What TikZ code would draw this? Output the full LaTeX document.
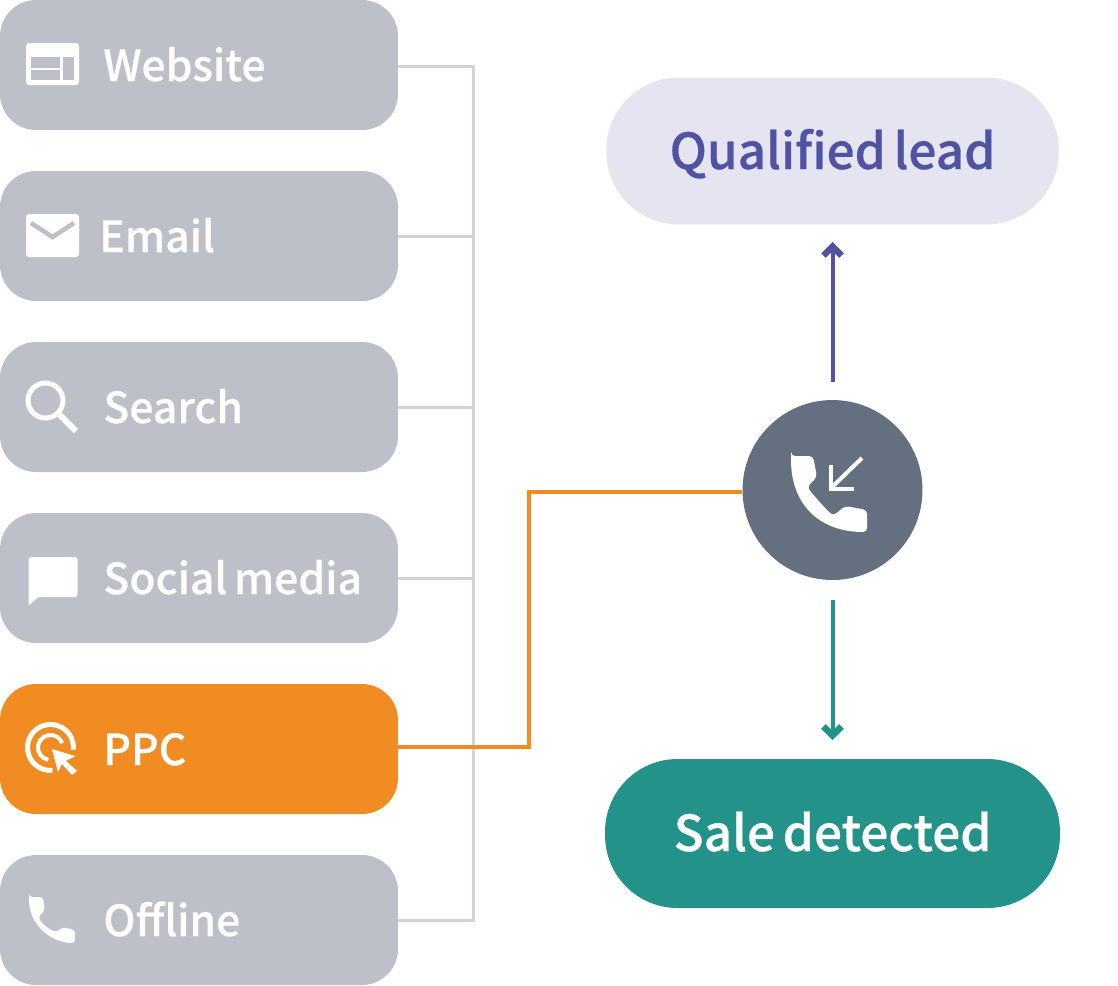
\documentclass[tikz,border=0pt]{standalone}
\usepackage{fontspec}
\setmainfont{Noto Sans CJK SC}[UprightFont=* Medium, WordSpace=0.7, FakeBold=0.5]
\usetikzlibrary{arrows, arrows.meta}
\usetikzlibrary{positioning}
\usepackage{xcolor}
\definecolor{boxgrey}{HTML}{BDBFC9}
\definecolor{linegrey}{HTML}{D2D3D9}
\definecolor{ppcorange}{HTML}{F08C22}
\definecolor{leadpurple}{HTML}{5053A3}
\definecolor{leadpale}{HTML}{E5E5F1}
\definecolor{saleteal}{HTML}{23938A}
\definecolor{callslate}{HTML}{64707F}
\tikzset{
  sourcebox/.style={fill=boxgrey, rounded corners=0.72cm, minimum width=7.96cm, minimum height=2.6cm, inner sep=0pt},
  sourcetext/.style={anchor=base west, text=white, font=\fontsize{24.3}{27}\selectfont, inner sep=0pt},
  resultpill/.style={rounded corners=1.45cm, minimum width=9.05cm, minimum height=2.94cm, inner sep=0pt},
  resulttext/.style={font=\fontsize{28.2}{32}\selectfont, inner sep=0pt, anchor=base},
  feedline/.style={linegrey, line width=0.06cm},
  resultarrow/.style={-{Straight Barb[length=0.18cm, width=0.36cm, line width=0.13cm]}, line width=0.08cm},
  icon/.style={fill=white, draw=none},
  iconline/.style={white, line width=0.1cm}
}
\begin{document}
\begin{tikzpicture}[x=0.02cm, y=-0.02cm]
\useasboundingbox (0,0) rectangle (1118,985);

%source boxes
\node[sourcebox] (website) at (199,65) {};
\node[sourcebox] (email) at (199,236) {};
\node[sourcebox] (search) at (199,407) {};
\node[sourcebox] (social) at (199,578) {};
\node[sourcebox, fill=ppcorange] (ppc) at (199,749) {};
\node[sourcebox] (offline) at (199,920) {};

%labels
\node[sourcetext] (websitetext) at (103,81) {Website};
\node[sourcetext] (emailtext) at (99,252) {Email};
\node[sourcetext] (searchtext) at (103,423) {Search};
\node[sourcetext] (socialtext) at (103,594) {Social media};
\node[sourcetext] (ppctext) at (103,765) {PPC};
\node[sourcetext] (offlinetext) at (103,936) {Offline};

%results and call
\node[resultpill, fill=leadpale] (lead) at (832.5,151) {};
\node[resultpill, fill=saleteal, minimum width=9.1cm, minimum height=2.98cm] (sale) at (832.5,833.5) {};
\node[circle, fill=callslate, minimum size=3.6cm, inner sep=0pt] (call) at (832.5,490) {};
\node[resulttext, text=leadpurple] (leadtext) at (832.5,169) {Qualified lead};
\node[resulttext, text=white] (saletext) at (832.5,851) {Sale detected};

%connectors
\coordinate (bustop) at (473,66);
\coordinate (busbottom) at (473,920);
\coordinate (leadtip) at (832.5,242);
\coordinate (leadtail) at (832.5,382);
\coordinate (saletail) at (832.5,600);
\coordinate (saletip) at (832.5,740);
\coordinate (ppcout) at (398,747);
\coordinate (ppcbend) at (528.5,492);
\draw[feedline] (website.east |- bustop) -- (bustop) -- (busbottom) -- (offline.east);
\draw[feedline] (email.east) -- (email.east -| bustop);
\draw[feedline] (search.east) -- (search.east -| bustop);
\draw[feedline] (social.east) -- (social.east -| bustop);
\draw[ppcorange, line width=0.08cm] (ppcout) -- (ppcout -| ppcbend) -- (ppcbend) -- (call.west |- ppcbend);
\draw[resultarrow, leadpurple] (leadtail) -- (leadtip);
\draw[resultarrow, saleteal] (saletail) -- (saletip);

%website icon
\fill[icon, rounded corners=0.06cm] (26,43) rectangle (79,85);
\fill[boxgrey] (31,57) rectangle (60,68);
\fill[boxgrey] (31,70) rectangle (60,80);
\fill[boxgrey] (63,57) rectangle (74,80);

%email icon
\fill[icon, rounded corners=0.06cm] (26,214) rectangle (79,257);
\draw[boxgrey, line width=0.09cm] (31,223) -- (52.5,237) -- (74,223);

%search icon
\draw[iconline] (45.5,400.5) circle (17.5);
\draw[white, line width=0.12cm] (58,413) -- (76,431);

%social icon
\fill[icon, rounded corners=0.05cm] (28.5,557) -- (77.5,557) -- (77.5,597) -- (38,597) -- (28.5,606) -- cycle;

%ppc icon
\draw[white, line width=0.1cm] (52.5,770.4) arc (85:365:23);
\draw[white, line width=0.08cm] (48.3,759.8) arc (100:340:12.5);
\fill[icon, draw=ppcorange, line width=0.02cm] (51,748) -- (77,756) -- (67,761) -- (78,771) -- (72,776) -- (62,765) -- (58,774) -- cycle;

%offline icon
\fill[icon, rounded corners=0.07cm] (29,897) -- (43,897) -- (45,910) -- (38,917) .. controls (43,925) and (50,930) .. (58,932) -- (62,927) -- (75,930) -- (75,943) .. controls (52,943) and (29,925) .. cycle;

%call icon
\fill[icon, rounded corners=0.08cm] (791,456) -- (813,456) -- (817,477) -- (807,487) .. controls (815,497) and (824,507) .. (833,516) -- (845,506) -- (867,510) -- (867,532) .. controls (820,532) and (791,505) .. cycle;
\draw[white, line width=0.08cm] (862,458) -- (830,489);
\draw[white, line width=0.08cm] (830.5,465) -- (830.5,489) -- (854,489);

\end{tikzpicture}
\end{document}
